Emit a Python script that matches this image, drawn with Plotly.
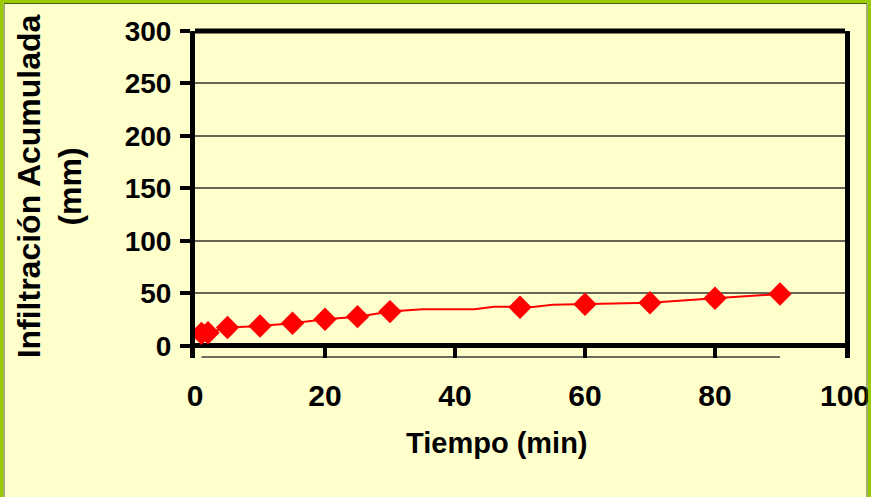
import plotly.graph_objects as go

# Data
tiempo_marcas = [1, 2, 5, 10, 15, 20, 25, 30, 50, 60, 70, 80, 90]
infil_marcas = [12.0, 12.5, 17.5, 19.0, 21.6, 25.4, 27.9, 32.7, 36.9, 39.7, 41.2, 45.4, 49.5]

tiempo_linea = [1, 2, 5, 10, 15, 20, 25, 30, 35, 43, 46, 50, 52, 55, 60, 70, 80, 90]
infil_linea = [12.0, 12.5, 17.5, 19.0, 21.6, 25.4, 27.9, 32.7, 35.0, 35.0, 37.4, 36.9, 37.2, 39.3, 39.7, 41.2, 45.4, 49.5]

base_x = [1, 90]
base_y = [-10.5, -10.5]

x_ticks = [0, 20, 40, 60, 80, 100]
y_ticks = [0, 50, 100, 150, 200, 250, 300]

BG = "#FFFFCC"
FONT = "Liberation Sans, Arial, sans-serif"

fig = go.Figure()
fig.add_trace(go.Scatter(x=base_x, y=base_y, mode="lines",
                         line=dict(color="#3a3a3a", width=1.5),
                         showlegend=False, hoverinfo="skip"))
fig.add_trace(go.Scatter(x=tiempo_linea, y=infil_linea, mode="lines",
                         line=dict(color="#FF0000", width=2),
                         showlegend=False))
fig.add_trace(go.Scatter(x=tiempo_marcas, y=infil_marcas, mode="markers",
                         marker=dict(symbol="diamond", size=18, color="#FF0000",
                                     line=dict(width=0)),
                         showlegend=False, cliponaxis=False))

L, R, T, B = 195, 26, 31, 139
W, H = 871, 497
pw, ph = W - L - R, H - T - B

fig.update_layout(
    width=W, height=H,
    margin=dict(l=L, r=R, t=T, b=B, autoexpand=False),
    paper_bgcolor=BG, plot_bgcolor=BG,
    font=dict(family=FONT, color="black"),
    xaxis=dict(range=[0, 100], tickvals=x_ticks, ticktext=[str(v) for v in x_ticks],
               showgrid=False, zeroline=False, showline=False, automargin=False,
               ticks="inside", ticklen=11, tickwidth=4, tickcolor="black",
               tickfont=dict(family=FONT, size=30, color="black", weight="bold"),
               ticklabelstandoff=17),
    yaxis=dict(range=[-11.5, 300], tickvals=y_ticks, ticktext=[str(v) for v in y_ticks],
               showgrid=True, gridcolor="#666655", gridwidth=1.5, automargin=False,
               zeroline=True, zerolinecolor="black", zerolinewidth=5,
               showline=True, linecolor="black", linewidth=5, mirror=True,
               ticks="outside", ticklen=10, tickwidth=4, tickcolor="black",
               tickfont=dict(family=FONT, size=28, color="black", weight="bold"),
               ticklabelstandoff=3),
    shapes=[
        dict(type="line", xref="paper", yref="paper", x0=0, x1=1, y0=1, y1=1,
             line=dict(color="black", width=5), layer="above"),
        dict(type="rect", xref="paper", yref="paper",
             x0=(1.5 - L) / pw, x1=(W - 1.5 - L) / pw,
             y0=-(B + 10) / ph, y1=(ph + T - 1.5) / ph,
             line=dict(color="#99CC00", width=3), layer="above"),
        dict(type="rect", xref="paper", yref="paper",
             x0=(4 - L) / pw, x1=(W - 4 - L) / pw,
             y0=-(B + 10) / ph, y1=(ph + T - 3.5) / ph,
             line=dict(color="#4d5a1a", width=1), layer="above"),
    ],
    annotations=[
        dict(text="Infiltración Acumulada<br>(mm)", textangle=-90,
             xref="paper", yref="y", x=(50 - L) / pw, y=152,
             xanchor="center", yanchor="middle", showarrow=False,
             font=dict(family=FONT, size=32, color="black", weight="bold")),
        dict(text="Tiempo (min)", xref="x", yref="paper",
             x=46.5, y=-(443 - (T + ph)) / ph,
             xanchor="center", yanchor="middle", showarrow=False,
             font=dict(family=FONT, size=29, color="black", weight="bold")),
    ],
)

fig.write_html("out.html", post_script="document.body.style.margin='0';document.body.style.overflow='hidden';")
